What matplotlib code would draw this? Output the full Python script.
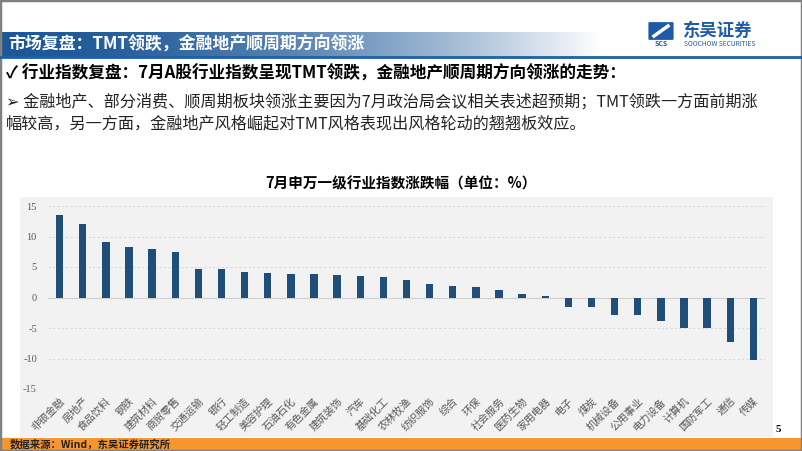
import numpy as np
import matplotlib
matplotlib.use("Agg")
import matplotlib.pyplot as plt
from matplotlib.patches import Rectangle, FancyBboxPatch
from matplotlib.lines import Line2D

plt.rcParams['font.family'] = ['Noto Sans CJK SC', 'DejaVu Sans']

# 7月申万一级行业涨跌幅 (%)
industries = ['非银金融', '房地产', '食品饮料', '钢铁', '建筑材料', '商贸零售', '交通运输',
              '银行', '轻工制造', '美容护理', '石油石化', '有色金属', '建筑装饰', '汽车',
              '基础化工', '农林牧渔', '纺织服饰', '综合', '环保', '社会服务', '医药生物',
              '家用电器', '电子', '煤炭', '机械设备', '公用事业', '电力设备', '计算机',
              '国防军工', '通信', '传媒']
changes = [13.5, 12.0, 9.1, 8.2, 8.0, 7.5, 4.6,
           4.6, 4.15, 4.05, 3.8, 3.8, 3.65, 3.6,
           3.3, 2.95, 2.25, 1.9, 1.8, 1.2, 0.65,
           0.3, -1.6, -1.6, -2.8, -2.95, -3.8, -5.0,
           -5.05, -7.3, -10.2]
y_ticks = [-15, -10, -5, 0, 5, 10, 15]

header_title = '市场复盘：TMT领跌，金融地产顺周期方向领涨'
point_title = '✓ 行业指数复盘：7月A股行业指数呈现TMT领跌，金融地产顺周期方向领涨的走势：'
point_line1 = '➢ 金融地产、部分消费、顺周期板块领涨主要因为7月政治局会议相关表述超预期；TMT领跌一方面前期涨'
point_line2 = '幅较高，另一方面，金融地产风格崛起对TMT风格表现出风格轮动的翘翘板效应。'
chart_title = '7月申万一级行业指数涨跌幅（单位：%）'
source = '数据来源：Wind，东吴证券研究所'

W, H = 802, 451
fig = plt.figure(figsize=(W / 100, H / 100), dpi=100)
fig.patch.set_facecolor('white')


def fx(x):
    return x / W


def fy(y):
    return 1 - y / H


# header band with gradient fading to white
dark = np.array([0x1c, 0x58, 0x97]) / 255
xs = np.arange(W)
t = np.clip(xs / 600, 0, 1) ** 1.8
grad = dark[None, :] * (1 - t[:, None]) + t[:, None]
ax_g = fig.add_axes([0, fy(57), 1, (57 - 32) / H])
ax_g.imshow(grad[None, :, :], aspect='auto')
ax_g.axis('off')
fig.add_artist(Line2D([0, 1], [fy(57), fy(57)], transform=fig.transFigure,
                      color='#1f5fa6', lw=2))
fig.text(fx(8), fy(45), header_title, color='white', fontsize=12.2,
         fontweight='bold', va='center', ha='left')

# logo
fig.add_artist(FancyBboxPatch((fx(650), fy(39)), 22 / W, 16 / H,
                              boxstyle='round,pad=0.002', transform=fig.transFigure,
                              facecolor='#1e5aa8', edgecolor='none'))
fig.add_artist(Line2D([fx(654), fx(668)], [fy(36), fy(26)], transform=fig.transFigure,
                      color='white', lw=2.5))
fig.text(fx(661), fy(44), 'SCS', color='#1e5aa8', fontsize=5, fontweight='bold',
         ha='center', va='center')
fig.text(fx(683), fy(31), '东吴证券', color='#1e5aa8', fontsize=12.5,
         fontweight='bold', ha='left', va='center')
fig.text(fx(684), fy(44), 'SOOCHOW SECURITIES', color='#1e5aa8', fontsize=4.8,
         ha='left', va='center')

# bullet text
fig.text(fx(6), fy(74), point_title, fontsize=12, fontweight='bold',
         ha='left', va='center', color='black')
fig.text(fx(6), fy(102), point_line1, fontsize=11.6, ha='left', va='center',
         color='#222222')
fig.text(fx(6), fy(124), point_line2, fontsize=11.6, ha='left', va='center',
         color='#222222')

# chart title and background
fig.text(fx(401), fy(183), chart_title, fontsize=10.5, fontweight='bold',
         ha='center', va='center')
fig.add_artist(Rectangle((fx(20), fy(437)), (773 - 20) / W, (437 - 197) / H,
                         transform=fig.transFigure, facecolor='#f2f2f2',
                         edgecolor='none', zorder=0))

ax = fig.add_axes([fx(48), fy(389), (765 - 48) / W, (389 - 206) / H])
ax.patch.set_alpha(0)
x = np.arange(len(industries))
ax.bar(x, changes, width=0.32, color='#1f4e79', zorder=3)
ax.axhline(0, color='#d0d0d0', lw=0.8, zorder=2)
ax.set_xlim(-0.5, len(industries) - 0.5)
ax.set_ylim(-15, 15)
ax.set_yticks(y_ticks)
ax.set_yticklabels([str(v) for v in y_ticks], fontfamily='Liberation Serif')
ax.yaxis.grid(True, linestyle=(0, (2, 2)), color='#d9d9d9', lw=0.8)
ax.set_axisbelow(True)
ax.set_xticks(x)
ax.set_xticklabels(industries, rotation=45, ha='right', rotation_mode='anchor')
ax.tick_params(axis='x', length=0, pad=5, labelsize=7.5, labelcolor='#595959')
ax.tick_params(axis='y', length=0, pad=8, labelsize=7.5, labelcolor='#595959')
for s in ax.spines.values():
    s.set_visible(False)

# footer and page number
fig.add_artist(Rectangle((0, 0), 1, (451 - 438) / H, transform=fig.transFigure,
                         facecolor='#f7962c', edgecolor='none'))
fig.text(fx(10), fy(444), source, fontsize=7.5, fontweight='bold',
         ha='left', va='center', color='#222222')
fig.text(fx(778), fy(429), '5', fontsize=8, fontweight='bold',
         fontfamily='Liberation Serif', ha='center', va='center')

# page frame
fig.add_artist(Rectangle((0, 0), 1, 1, transform=fig.transFigure, fill=False,
                         edgecolor='#808080', lw=2.5))

fig.savefig('out.png', dpi=100)
